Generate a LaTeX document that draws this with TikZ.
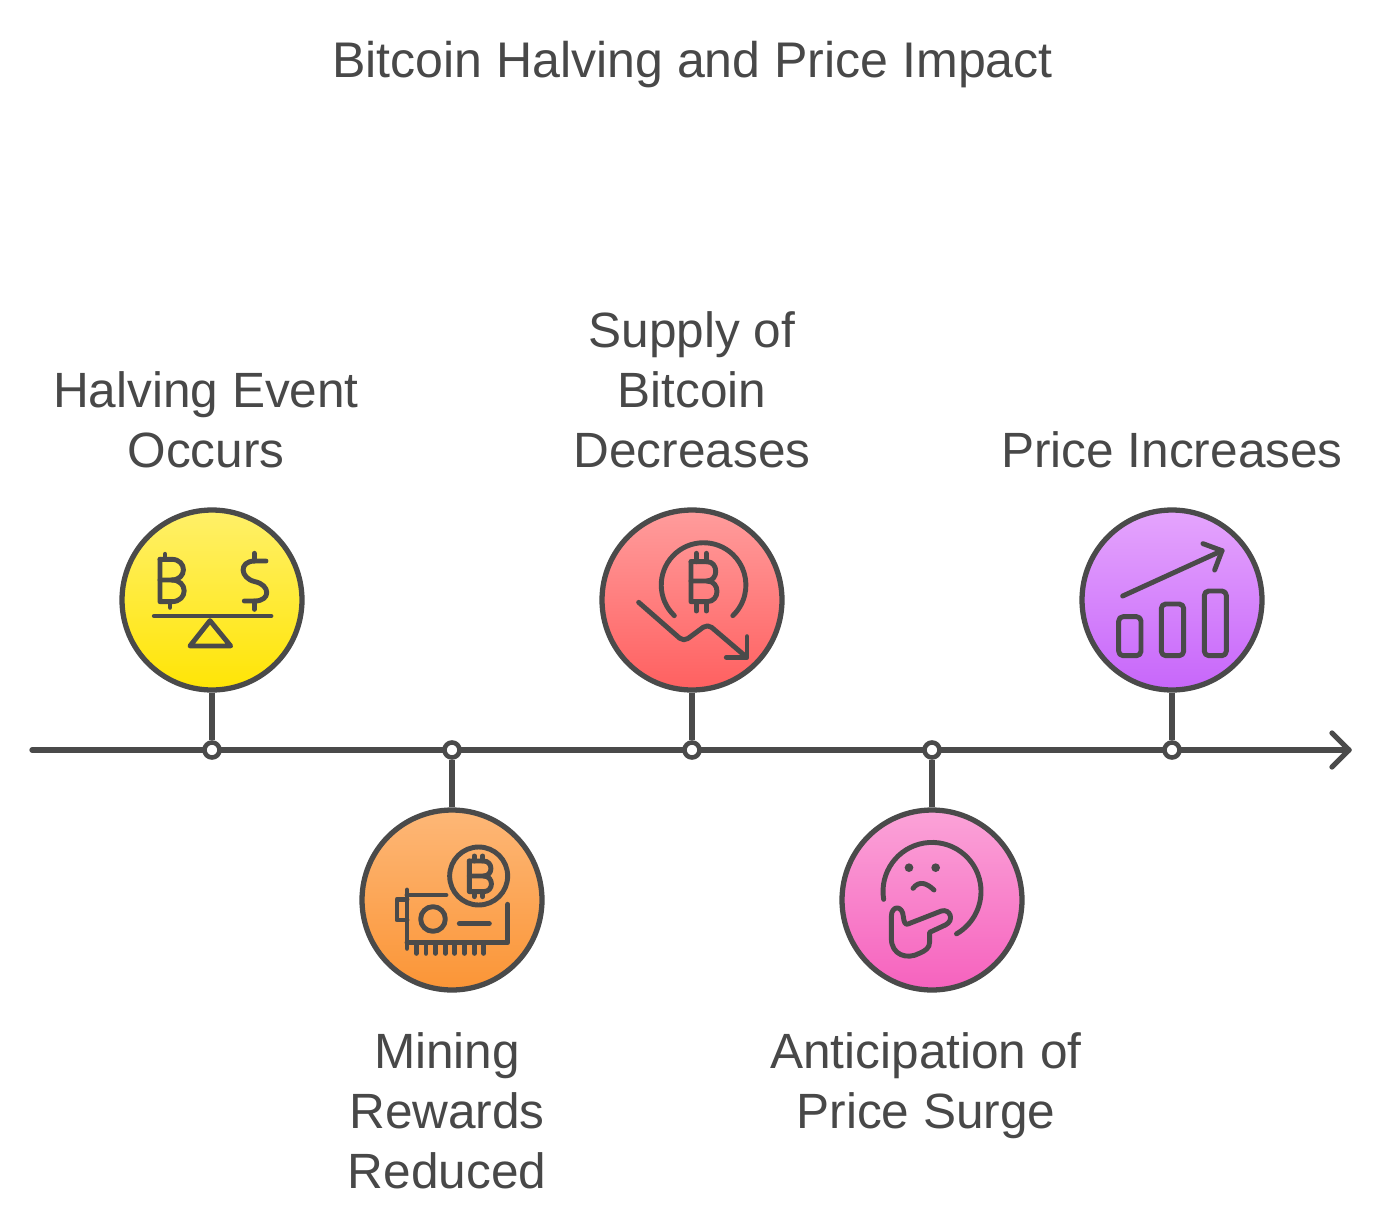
\documentclass[tikz,border=0pt]{standalone}
\usepackage{fontspec}
\setmainfont{Liberation Sans}
\usetikzlibrary{arrows.meta}
\definecolor{ink}{HTML}{4A4A4A}
\definecolor{txt}{HTML}{484848}
\tikzset{
  every picture/.style={x=0.02cm,y=-0.02cm},
  bubble/.style={circle,draw=ink,line width=3pt,minimum size=3.6cm,inner sep=0pt},
  dot/.style={circle,draw=ink,fill=white,line width=2.6pt,minimum size=0.3cm,inner sep=0pt},
  stem/.style={draw=ink,line width=3pt},
  axisline/.style={draw=ink,line width=3pt,line cap=round},
  label/.style={text=txt,font=\fontsize{28.2pt}{34.14pt}\selectfont,align=center,anchor=base,inner sep=0pt},
  heading/.style={label,font=\fontsize{28.5pt}{34.14pt}\selectfont},
  icon/.style={draw=ink,line width=2.8pt,line cap=round,line join=round},
}
\begin{document}
\begin{tikzpicture}
\useasboundingbox[fill=white] (0,0) rectangle (1383,1230);
\node[heading] (title) at (692.5,78) {Bitcoin Halving and Price Impact};
\node[label] (l1) at (206,467) {Halving Event\\Occurs};
\node[label] (l2) at (447,1188) {Mining\\Rewards\\Reduced};
\node[label] (l3) at (692,467) {Supply of\\Bitcoin\\Decreases};
\node[label] (l4) at (926,1128) {Anticipation of\\Price Surge};
\node[label] (l5) at (1172,467) {Price Increases};
\coordinate (axisstart) at (32,750);
\coordinate (axisend) at (1349,750);
\node[bubble,top color={rgb,255:red,255;green,240;blue,105},bottom color={rgb,255:red,255;green,229;blue,5}] (c1) at (212,600) {};
\node[bubble,top color={rgb,255:red,253;green,183;blue,119},bottom color={rgb,255:red,251;green,149;blue,54}] (c2) at (452,900) {};
\node[bubble,top color={rgb,255:red,255;green,156;blue,156},bottom color={rgb,255:red,255;green,96;blue,96}] (c3) at (692,600) {};
\node[bubble,top color={rgb,255:red,251;green,163;blue,216},bottom color={rgb,255:red,246;green,98;blue,190}] (c4) at (932,900) {};
\node[bubble,top color={rgb,255:red,229;green,165;blue,253},bottom color={rgb,255:red,199;green,102;blue,250}] (c5) at (1172,600) {};
\draw[axisline] (axisstart) -- (axisend);
\draw[axisline,line join=round] ([shift={(-17,-17)}]axisend) -- (axisend) -- ([shift={(-17,17)}]axisend);
\node[dot] (d1) at (212,750) {};
\node[dot] (d2) at (452,750) {};
\node[dot] (d3) at (692,750) {};
\node[dot] (d4) at (932,750) {};
\node[dot] (d5) at (1172,750) {};
\foreach \i in {1,...,5}{\draw[stem] (c\i) -- (d\i);}
% icon 1
\begin{scope}[shift={(110,500)},x=0.00666667cm,y=-0.00666667cm,icon]
\draw (150,178) -- (185,178) .. controls (232,178) and (232,240) .. (185,240) -- (150,240);
\draw (185,240) .. controls (235,240) and (235,305) .. (185,305) -- (150,305) -- (150,178);
\draw (165,163) -- (165,178);
\draw (180,305) -- (180,322);
\draw (468,183) -- (435,183) .. controls (385,183) and (390,235) .. (435,245) .. controls (482,255) and (482,303) .. (435,303) -- (403,303);
\draw (433,160) -- (433,183);
\draw (433,303) -- (433,328);
\draw (133,348) -- (483,348);
\draw (300,362) -- (240,438) -- (362,438) -- cycle;
\end{scope}
% icon 2
\begin{scope}[shift={(352,800)},x=0.00666667cm,y=-0.00666667cm,icon]
\draw (380,228) circle[radius=87];
\draw (352,183) -- (395,183) .. controls (424,183) and (424,228) .. (395,228) -- (352,228);
\draw (395,228) .. controls (426,228) and (426,275) .. (395,275) -- (352,275) -- (352,183);
\foreach \xx in {367,392}{\draw (\xx,168) -- (\xx,183); \draw (\xx,275) -- (\xx,290);}
\draw (165,270) -- (165,445);
\draw (165,298) -- (135,298) -- (135,360) -- (165,360);
\draw (165,285) -- (282,285);
\draw (467,313) -- (467,428) -- (165,428);
\draw (243,357) circle[radius=37];
\draw (322,371) -- (412,371);
\foreach \xx in {193,222,250,280,308,337,367,395}{\draw (\xx,428) -- (\xx,460);}
\end{scope}
% icon 3
\begin{scope}[shift={(592,500)},x=0.00666667cm,y=-0.00666667cm,icon]
\draw (247,347) arc[start angle=133.7,end angle=406.3,radius=127];
\draw (297,185) -- (345,185) .. controls (380,185) and (380,243) .. (345,243) -- (297,243);
\draw (345,243) .. controls (385,243) and (385,305) .. (345,305) -- (297,305) -- (297,185);
\foreach \xx in {313,343}{\draw (\xx,160) -- (\xx,185); \draw (\xx,305) -- (\xx,333);}
\draw[rounded corners=3pt] (140,307) -- (275,425) -- (347,372) -- (462,470);
\draw (403,472) -- (465,472) -- (465,410);
\end{scope}
% icon 4
\begin{scope}[shift={(832,800)},x=0.00666667cm,y=-0.00666667cm,icon]
\draw (155,298) arc[start angle=170.7,end angle=420,radius=147];
\fill[ink,draw=none] (231,203) circle[radius=13];
\fill[ink,draw=none] (311,203) circle[radius=13];
\draw (243,265) .. controls (262,240) and (285,250) .. (306,270);
\draw (228,372) -- (328,333) .. controls (355,325) and (368,362) .. (340,375) -- (293,397) -- (293,425) .. controls (293,445) and (280,452) .. (262,460) .. controls (225,480) and (178,465) .. (178,415) -- (178,350) .. controls (178,315) and (212,315) .. (214,350) .. controls (216,368) and (220,375) .. (228,372) -- cycle;
\end{scope}
% icon 5
\begin{scope}[shift={(1072,500)},x=0.00666667cm,y=-0.00666667cm,icon]
\draw[rounded corners=2.5pt] (140,467) -- (140,350) -- (207,350) -- (207,467) -- cycle;
\draw[rounded corners=2.5pt] (268,467) -- (268,312) -- (335,312) -- (335,467) -- cycle;
\draw[rounded corners=2.5pt] (397,467) -- (397,273) -- (463,273) -- (463,467) -- cycle;
\draw (152,288) -- (450,152);
\draw (393,131) -- (450,152) -- (428,210);
\end{scope}
\end{tikzpicture}
\end{document}
